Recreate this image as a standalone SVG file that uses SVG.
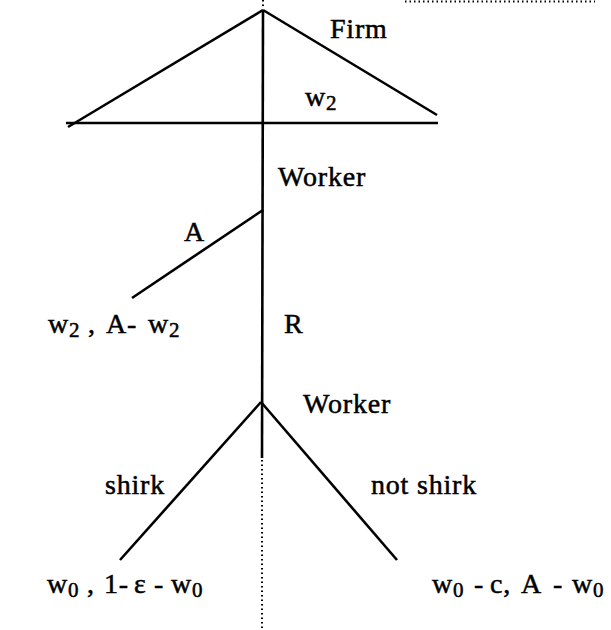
<svg xmlns="http://www.w3.org/2000/svg" width="611" height="630" viewBox="0 0 611 630">
<style>
.e{stroke:#000;stroke-width:2.6;fill:none;stroke-linecap:butt}
.d{stroke:#000;stroke-width:2;fill:none;stroke-dasharray:1.5 3}
text{font-family:"Liberation Serif","Times New Roman",serif;font-size:28px;letter-spacing:0.8px;fill:#000;stroke:#000;stroke-width:0.5}
.s{font-size:21px}
</style>
<rect width="611" height="630" fill="#fff"/>
<g id="connectors">
<line class="d" x1="405" y1="1.5" x2="595" y2="1.5"/>
<line class="d" x1="263" y1="0" x2="263" y2="6"/>
<line class="e" x1="263" y1="10" x2="68" y2="127"/>
<line class="e" x1="263" y1="10" x2="437" y2="115"/>
<line class="e" x1="66" y1="123" x2="438" y2="123"/>
<line class="e" x1="263" y1="10" x2="262" y2="458"/>
<line class="d" x1="262" y1="460" x2="262" y2="630"/>
<line class="e" x1="263" y1="210" x2="132" y2="298"/>
<line class="e" x1="261" y1="402" x2="120" y2="560"/>
<line class="e" x1="261" y1="402" x2="397" y2="560"/>
</g>
<g id="firm"><text x="330" y="38">Firm</text></g>
<g id="w2label"><text x="305" y="106">w<tspan class="s" dy="4">2</tspan></text></g>
<g id="worker1"><text x="278" y="186">Worker</text></g>
<g id="actionA"><text x="184" y="241">A</text></g>
<g id="payoff1"><text x="48" y="333">w<tspan class="s" dy="4">2</tspan><tspan x="88" dy="-4">,</tspan><tspan x="106">A-</tspan><tspan x="148">w</tspan><tspan class="s" dy="4">2</tspan></text></g>
<g id="actionR"><text x="284" y="333">R</text></g>
<g id="worker2"><text x="303" y="413">Worker</text></g>
<g id="shirk"><text x="105" y="494">shirk</text></g>
<g id="notshirk"><text x="371" y="494">not shirk</text></g>
<g id="payoff2"><text x="47" y="593">w<tspan class="s" dy="4">0</tspan><tspan x="87" dy="-4">,</tspan><tspan x="104">1-</tspan><tspan x="134">ε</tspan><tspan x="154">-</tspan><tspan x="171">w</tspan><tspan class="s" dy="4">0</tspan></text></g>
<g id="payoff3"><text x="432" y="593">w<tspan class="s" dy="4">0</tspan><tspan x="474" dy="-4">-</tspan><tspan x="490">c,</tspan><tspan x="521">A</tspan><tspan x="553">-</tspan><tspan x="572">w</tspan><tspan class="s" dy="4">0</tspan></text></g>
</svg>
